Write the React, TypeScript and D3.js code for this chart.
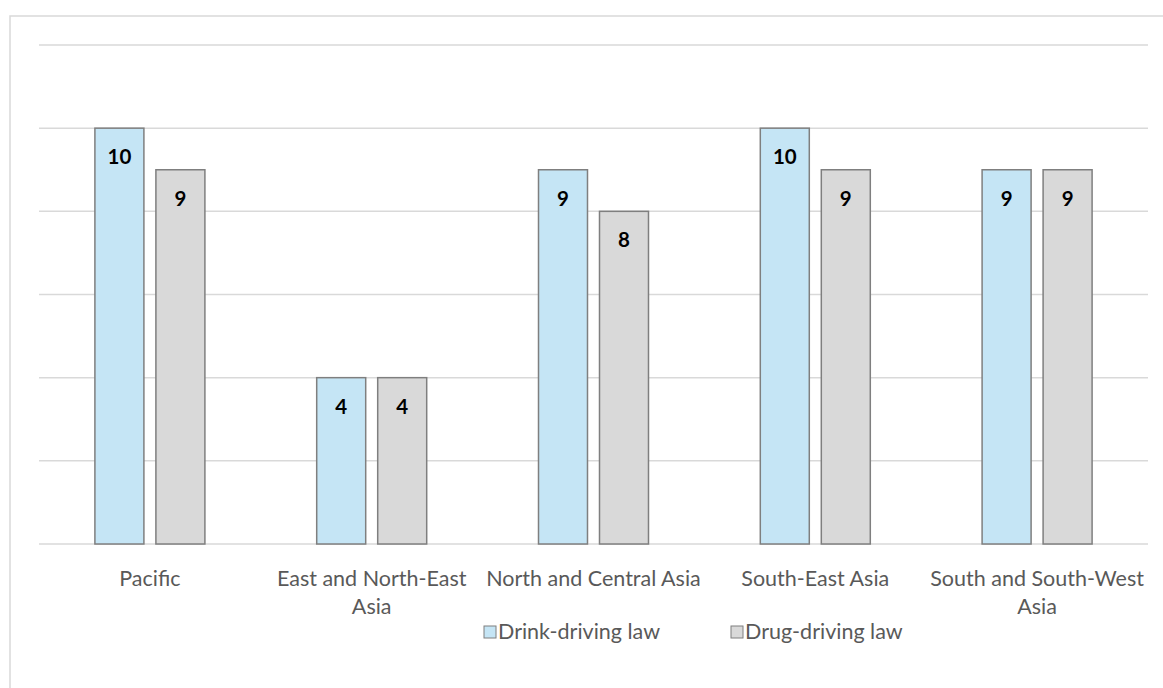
import React from 'react';
import * as d3 from 'd3';

const categories = ['Pacific', 'East and North-East Asia', 'North and Central Asia', 'South-East Asia', 'South and South-West Asia'];
const drinkDriving = [10, 4, 9, 10, 9];
const drugDriving = [9, 4, 8, 9, 9];
const seriesNames = ['Drink-driving law', 'Drug-driving law'];
const yTicks = [0, 2, 4, 6, 8, 10, 12];

const FONT = 'Lato, "Open Sans", sans-serif';
const colors = ['#c5e5f5', '#d9d9d9'];

// split a label into lines that fit the band
function wrap(text: string, maxW: number, font: string): string[] {
  const ctx = document.createElement('canvas').getContext('2d')!;
  ctx.font = font;
  const words = text.split(' ');
  const lines: string[] = [];
  let cur = '';
  words.forEach(w => {
    const t = cur ? cur + ' ' + w : w;
    if (ctx.measureText(t).width > maxW && cur) {
      lines.push(cur);
      cur = w;
    } else cur = t;
  });
  if (cur) lines.push(cur);
  return lines;
}

export default function App() {
  const width = 1163, height = 688;
  const margin = { top: 45, right: 15, bottom: 144, left: 39 };
  const x0 = d3.scaleBand().domain(categories).range([margin.left, width - margin.right]).paddingInner(0).paddingOuter(0);
  const barW = 49, gap = 12;
  const y = d3.scaleLinear().domain([0, 12]).range([height - margin.bottom, margin.top]);
  const series = [drinkDriving, drugDriving];
  const labelSize = 21.5;

  return (
    <svg width={width} height={height} style={{ position: 'absolute', left: 0, top: 0, background: '#fff' }}>
      <rect x={10} y={16} width={1200} height={700} fill="#fff" stroke="#d9d9d9" strokeWidth={1.5} />
      {yTicks.map(t => (
        <line key={t} x1={margin.left} x2={width - margin.right} y1={y(t)} y2={y(t)} stroke="#d9d9d9" strokeWidth={1.5} />
      ))}
      {categories.map((c, i) => {
        const cx = x0(c)! + x0.bandwidth() / 2;
        return (
          <g key={c}>
            {series.map((s, k) => {
              const bx = cx - gap / 2 - barW + k * (barW + gap);
              return (
                <g key={k}>
                  <rect x={bx} y={y(s[i])} width={barW} height={y(0) - y(s[i])} fill={colors[k]} stroke="#7f7f7f" strokeWidth={1.5} />
                  <text x={bx + barW / 2} y={y(s[i]) + 36} textAnchor="middle" fontFamily={FONT} fontWeight="bold" fontSize={20.5} fill="#000">{s[i]}</text>
                </g>
              );
            })}
            {wrap(c, x0.bandwidth(), `${labelSize}px ${FONT}`).map((ln, j) => (
              <text key={j} x={cx} y={586 + j * 28} textAnchor="middle" fontFamily={FONT} fontSize={labelSize} fill="#595959">{ln}</text>
            ))}
          </g>
        );
      })}
      {seriesNames.map((n, k) => (
        <g key={n} transform={`translate(${484 + k * 247},626)`}>
          <rect x={0} y={0} width={12} height={12} fill={colors[k]} stroke="#7f7f7f" strokeWidth={1} />
          <text x={14} y={13} fontFamily={FONT} fontSize={labelSize} fill="#595959">{n}</text>
        </g>
      ))}
    </svg>
  );
}
